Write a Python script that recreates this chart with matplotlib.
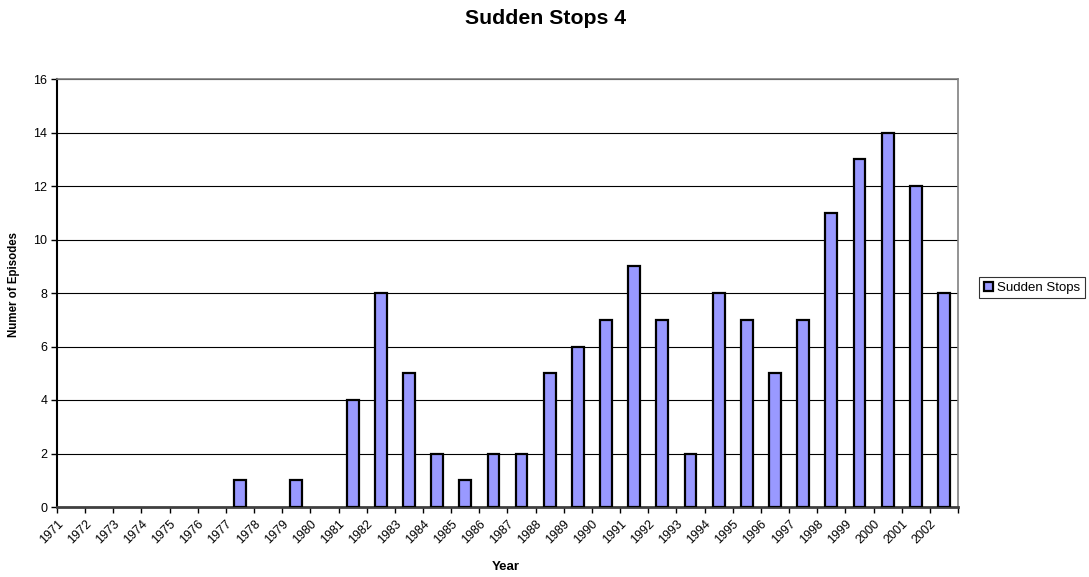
import matplotlib
matplotlib.use("Agg")
import matplotlib.pyplot as plt
import numpy as np

years = [str(y) for y in range(1971, 2003)]
episodes = [0, 0, 0, 0, 0, 0, 1, 0, 1, 0, 4, 8, 5, 2, 1, 2, 2, 5, 6, 7, 9, 7, 2, 8, 7, 5, 7, 11, 13, 14, 12, 8]
series_name = "Sudden Stops"

plt.rcParams['font.family'] = ['Liberation Sans', 'DejaVu Sans']

fig = plt.figure(figsize=(10.89, 5.77), dpi=100)
ax = fig.add_axes([57/1089, 1 - 507/577, (958-57)/1089, (507-79)/577])

x = np.arange(len(years)) + 0.5
vals = np.array(episodes, dtype=float)
nz = vals > 0
ax.bar(x[nz], vals[nz], width=0.42, color='#9999FF', edgecolor='black', linewidth=1.6, zorder=3, label=series_name)

ax.set_xlim(0, len(years))
ax.set_ylim(0, 16)
ax.set_yticks(range(0, 17, 2))
ax.yaxis.grid(True, color='black', linewidth=0.8, zorder=0)
ax.set_axisbelow(True)

ax.set_xticks(np.arange(len(years) + 1))
ax.set_xticklabels(years + [''], rotation=45, ha='right', rotation_mode='anchor', fontsize=9)
ax.tick_params(axis='x', length=4, width=1, direction='out', pad=4)
ax.tick_params(axis='y', length=4, width=1, direction='out', labelsize=9, pad=3)

for s in ['top', 'right']:
    ax.spines[s].set_color('#808080')
    ax.spines[s].set_linewidth(1.2)
ax.spines['left'].set_color('black')
ax.spines['left'].set_linewidth(1.5)
ax.spines['bottom'].set_color('#404040')
ax.spines['bottom'].set_linewidth(2)

fig.text(506/1089, 1 - 567/577, 'Year', fontsize=9.5, fontweight='bold', ha='center', va='center')
fig.text(14/1089, 1 - 284/577, 'Numer of Episodes', fontsize=8.3, fontweight='bold', ha='center', va='center', rotation=90)

fig.text(546/1089, 1 - 18/577, 'Sudden Stops 4', fontsize=15.3, fontweight='bold', ha='center', va='center')

leg = fig.legend(loc='upper left', bbox_to_anchor=(979/1089, 1 - 277/577), fontsize=9.5,
                 frameon=True, fancybox=False, edgecolor='black', handlelength=0.7, handleheight=0.7,
                 handletextpad=0.3, borderpad=0.35, borderaxespad=0)
leg.get_frame().set_linewidth(0.8)

fig.savefig('out.png', dpi=100)
